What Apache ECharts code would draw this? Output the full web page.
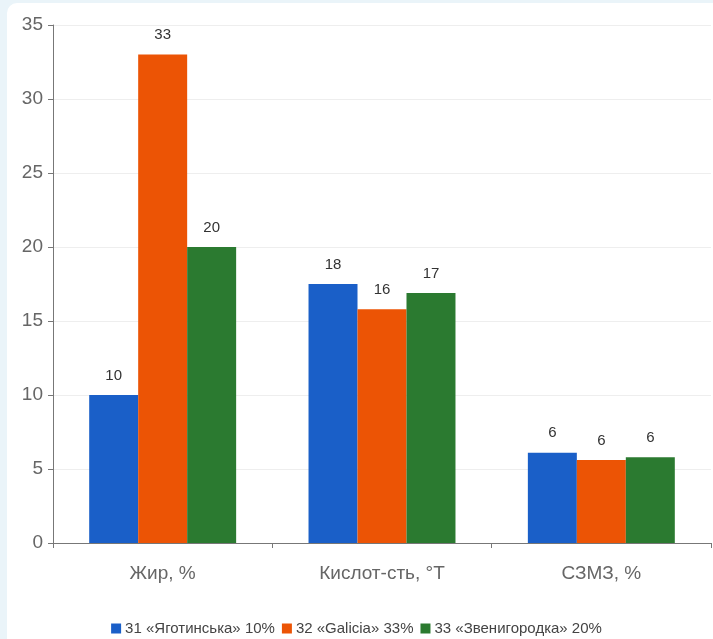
<!DOCTYPE html>
<html><head><meta charset="utf-8">
<script src="https://cdn.jsdelivr.net/npm/echarts@6/dist/echarts.min.js"></script>
<style>
html,body{margin:0;padding:0;background:#eaf4f9;}
#wrap{position:absolute;left:7px;top:3px;width:706px;height:636px;background:#fff;border-radius:10px 0 0 0;}
#c{position:absolute;left:-7px;top:-3px;width:713px;height:639px;}
</style></head><body>
<div id="wrap"><div id="c"></div></div>
<script>
const categories = ['Жир, %', 'Кислот-сть, °Т', 'СЗМЗ, %'];
const seriesNames = ['31 «Яготинська» 10%', '32 «Galicia» 33%', '33 «Звенигородка» 20%'];
const yagotynska = [10, 17.5, 6.1];
const galicia = [33, 15.8, 5.6];
const zvenyhorodka = [20, 16.9, 5.8];
const colors = ['#1a5fc8', '#ec5405', '#2b7a30'];
const yTicks = [0, 5, 10, 15, 20, 25, 30, 35];

const chart = echarts.init(document.getElementById('c'));
const data = [yagotynska, galicia, zvenyhorodka];
chart.setOption({
  backgroundColor: 'transparent',
  animation: false,
  grid: {left: 53, right: 2, top: 25, bottom: 96},
  legend: {
    bottom: -2, left: 'center', itemWidth: 10, itemHeight: 10, itemGap: 7,
    icon: 'rect',
    textStyle: {fontFamily: 'Liberation Sans', fontSize: 15, color: '#444', padding: [0, 0, 0, -1]},
    data: seriesNames
  },
  xAxis: {
    type: 'category', data: categories,
    axisLine: {lineStyle: {color: '#777', width: 1}},
    axisTick: {show: true, length: 5, lineStyle: {color: '#777'}},
    axisLabel: {fontFamily: 'Liberation Sans', fontSize: 19, color: '#666', margin: 21}
  },
  yAxis: {
    type: 'value', min: yTicks[0], max: yTicks[yTicks.length - 1], interval: 5,
    axisLine: {show: true, lineStyle: {color: '#777'}},
    axisTick: {show: true, length: 5, lineStyle: {color: '#777'}},
    axisLabel: {fontFamily: 'Liberation Sans', fontSize: 19, color: '#666', margin: 10},
    splitLine: {lineStyle: {color: '#eeeeee'}}
  },
  series: seriesNames.map((n, i) => ({
    name: n, type: 'bar', data: data[i],
    barGap: '0%', barCategoryGap: '33%',
    itemStyle: {color: colors[i]},
    label: {show: true, position: 'top', distance: 12, fontFamily: 'Liberation Sans', fontSize: 15, color: '#333',
      formatter: p => Math.round(p.value)}
  }))
});
</script>
</body></html>
